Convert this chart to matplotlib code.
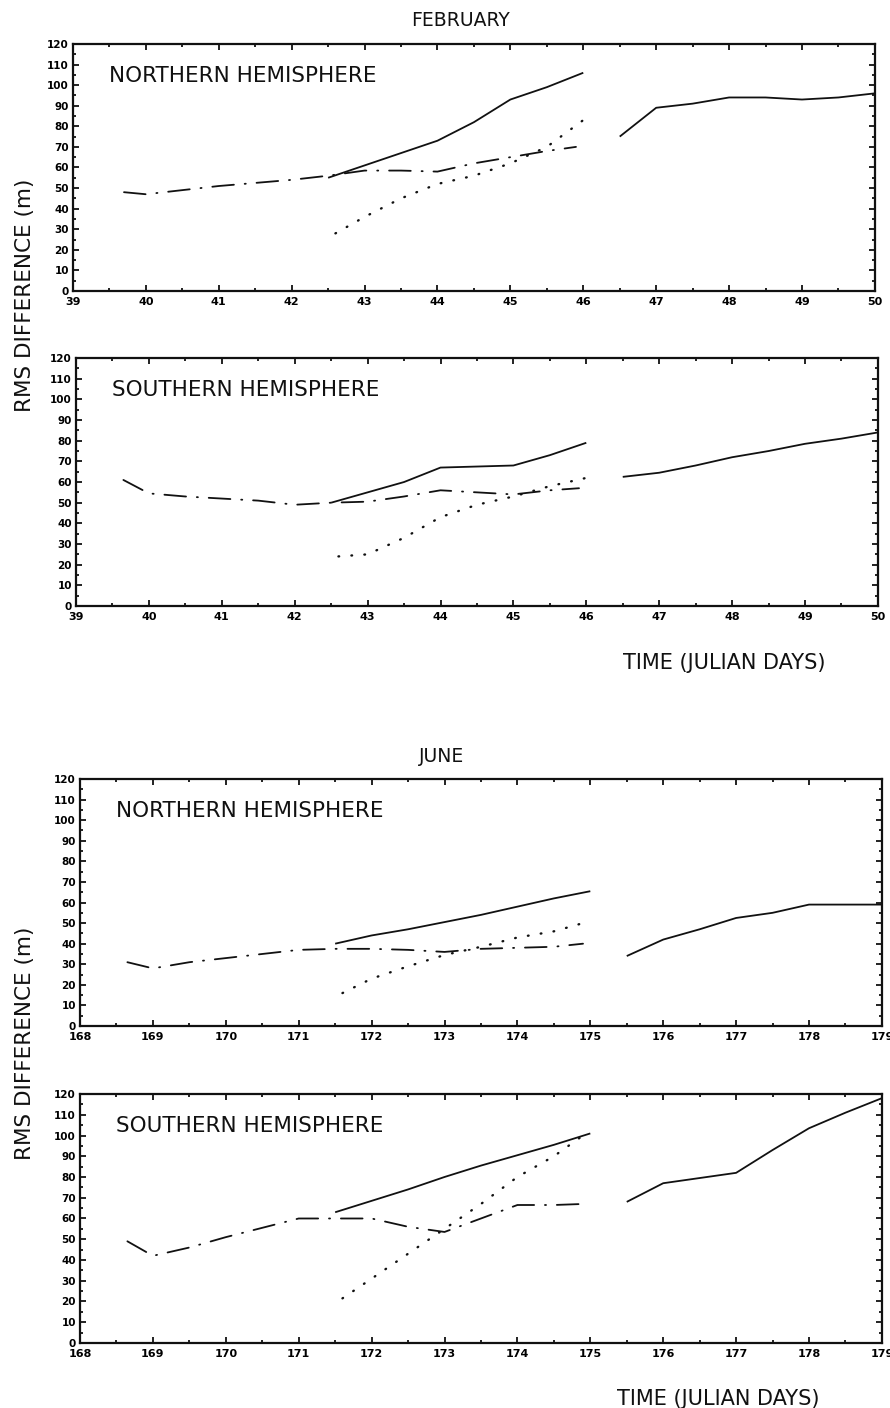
import matplotlib
matplotlib.use("Agg")
import matplotlib.pyplot as plt
from matplotlib.ticker import MultipleLocator

plt.rcParams['font.family'] = ['DejaVu Sans']

# ---------------- February, Julian days 39-50 ----------------
feb_xlim = (39, 50)
feb_xticks = [39, 40, 41, 42, 43, 44, 45, 46, 47, 48, 49, 50]
feb_xticklabels = ['39', '40', '41', '42', '43', '44', '45', '46', '47', '48', '49', '50']

# Northern hemisphere
feb_nh_solid1_x = [42.5, 43.0, 43.5, 44.0, 44.5, 45.0, 45.5, 46.0]
feb_nh_solid1_y = [55, 61, 67, 73, 82, 93, 99, 106]
feb_nh_solid2_x = [46.5, 47.0, 47.5, 48.0, 48.5, 49.0, 49.5, 50.0]
feb_nh_solid2_y = [75, 89, 91, 94, 94, 93, 94, 96]
feb_nh_dashdot_x = [39.7, 40.0, 40.5, 41.0, 41.5, 42.0, 42.5, 43.0, 43.5, 44.0, 44.5, 45.0, 45.5, 45.9]
feb_nh_dashdot_y = [48, 47, 49, 51, 52.5, 54, 56, 58.5, 58.5, 58, 62, 65, 68, 70]
feb_nh_dotted_x = [42.6, 43.0, 43.5, 44.0, 44.5, 45.0, 45.5, 46.0]
feb_nh_dotted_y = [28, 36, 45, 52, 56, 62, 70, 83]

# Southern hemisphere
feb_sh_solid1_x = [42.5, 43.0, 43.5, 44.0, 44.5, 45.0, 45.5, 46.0]
feb_sh_solid1_y = [50, 55, 60, 67, 67.5, 68, 73, 79]
feb_sh_solid2_x = [46.5, 47.0, 47.5, 48.0, 48.5, 49.0, 49.5, 50.0]
feb_sh_solid2_y = [62.5, 64.5, 68, 72, 75, 78.5, 81, 84]
feb_sh_dashdot_x = [39.65, 40.0, 40.5, 41.0, 41.5, 42.0, 42.5, 43.0, 43.5, 44.0, 44.5, 45.0, 45.5, 45.9]
feb_sh_dashdot_y = [61, 54.5, 53, 52, 51, 49, 50, 50.5, 53, 56, 55, 54, 56, 57]
feb_sh_dotted_x = [42.6, 43.0, 43.5, 44.0, 44.5, 45.0, 45.5, 46.0]
feb_sh_dotted_y = [24, 25, 33, 43, 49, 53, 58, 62]

# ---------------- June, Julian days 168-179 ----------------
jun_xlim = (168, 179)
jun_xticks = [168, 169, 170, 171, 172, 173, 174, 175, 176, 177, 178, 179]
jun_xticklabels = ['168', '169', '170', '171', '172', '173', '174', '175', '176', '177', '178', '179']

# Northern hemisphere
jun_nh_solid1_x = [171.5, 172.0, 172.5, 173.0, 173.5, 174.0, 174.5, 175.0]
jun_nh_solid1_y = [40, 44, 47, 50.5, 54, 58, 62, 65.5]
jun_nh_solid2_x = [175.5, 176.0, 176.5, 177.0, 177.5, 178.0, 178.5, 179.0]
jun_nh_solid2_y = [34, 42, 47, 52.5, 55, 59, 59, 59]
jun_nh_dashdot_x = [168.65, 169.0, 169.5, 170.0, 170.5, 171.0, 171.5, 172.0, 172.5, 173.0, 173.5, 174.0, 174.5, 174.9]
jun_nh_dashdot_y = [31, 28, 31, 33, 35, 37, 37.5, 37.5, 37, 36, 37.5, 38, 38.5, 40]
jun_nh_dotted_x = [171.6, 172.0, 172.5, 173.0, 173.5, 174.0, 174.5, 174.9]
jun_nh_dotted_y = [16, 23, 29, 34.5, 38.5, 43, 46, 50]

# Southern hemisphere
jun_sh_solid1_x = [171.5, 172.0, 172.5, 173.0, 173.5, 174.0, 174.5, 175.0]
jun_sh_solid1_y = [63, 68.5, 74, 80, 85.5, 90.5, 95.5, 101]
jun_sh_solid2_x = [175.5, 176.0, 176.5, 177.0, 177.5, 178.0, 178.5, 179.0]
jun_sh_solid2_y = [68, 77, 79.5, 82, 93, 103.5, 111, 118]
jun_sh_dashdot_x = [168.65, 169.0, 169.5, 170.0, 170.5, 171.0, 171.5, 172.0, 172.5, 173.0, 173.5, 174.0, 174.5, 174.9]
jun_sh_dashdot_y = [49, 42, 46, 51, 55.5, 60, 60, 60, 56, 53.5, 60, 66.5, 66.5, 67]
jun_sh_dotted_x = [171.6, 172.0, 172.5, 173.0, 173.5, 174.0, 174.5, 174.9]
jun_sh_dotted_y = [21.5, 31, 43, 55, 67, 80, 90, 100]

yticks = [0, 10, 20, 30, 40, 50, 60, 70, 80, 90, 100, 110, 120]
yticklabels = ['0', '10', '20', '30', '40', '50', '60', '70', '80', '90', '100', '110', '120']

INK = '#111111'
DASHDOT = (0, (12, 6, 0.6, 6))
DOTTED = (0, (0.3, 5.2))


def panel(rect, xlim, xticks, xticklabels, label, series):
    ax = fig.add_axes(rect)
    ax.set_xlim(*xlim)
    ax.set_ylim(0, 120)
    for (xs, ys, style, lw) in series:
        ax.plot(xs, ys, color=INK, linestyle=style, linewidth=lw,
                dash_capstyle='round', solid_capstyle='butt')
    ax.set_xticks(xticks)
    ax.set_xticklabels(xticklabels, fontsize=8, fontweight='bold')
    ax.set_yticks(yticks)
    ax.set_yticklabels(yticklabels, fontsize=7.5, fontweight='bold')
    ax.xaxis.set_minor_locator(MultipleLocator(0.5))
    ax.yaxis.set_minor_locator(MultipleLocator(5))
    ax.tick_params(which='both', direction='in', top=True, right=True,
                   color=INK, width=1.3)
    ax.tick_params(which='major', length=4, pad=4)
    ax.tick_params(which='minor', length=2.5)
    ax.tick_params(axis='y', pad=3)
    for s in ax.spines.values():
        s.set_linewidth(1.6)
        s.set_color(INK)
    ax.text(0.045, 0.87, label, transform=ax.transAxes, fontsize=15.5,
            color=INK, ha='left', va='center')
    return ax


fig = plt.figure(figsize=(8.9, 14.08), dpi=100)

panel([0.082, 0.7933, 0.901, 0.1755], feb_xlim, feb_xticks, feb_xticklabels,
      'NORTHERN HEMISPHERE',
      [(feb_nh_solid1_x, feb_nh_solid1_y, '-', 1.3),
       (feb_nh_solid2_x, feb_nh_solid2_y, '-', 1.3),
       (feb_nh_dashdot_x, feb_nh_dashdot_y, DASHDOT, 1.3),
       (feb_nh_dotted_x, feb_nh_dotted_y, DOTTED, 1.7)])

panel([0.0854, 0.5696, 0.901, 0.1761], feb_xlim, feb_xticks, feb_xticklabels,
      'SOUTHERN HEMISPHERE',
      [(feb_sh_solid1_x, feb_sh_solid1_y, '-', 1.3),
       (feb_sh_solid2_x, feb_sh_solid2_y, '-', 1.3),
       (feb_sh_dashdot_x, feb_sh_dashdot_y, DASHDOT, 1.3),
       (feb_sh_dotted_x, feb_sh_dotted_y, DOTTED, 1.7)])

panel([0.0899, 0.2713, 0.901, 0.1754], jun_xlim, jun_xticks, jun_xticklabels,
      'NORTHERN HEMISPHERE',
      [(jun_nh_solid1_x, jun_nh_solid1_y, '-', 1.3),
       (jun_nh_solid2_x, jun_nh_solid2_y, '-', 1.3),
       (jun_nh_dashdot_x, jun_nh_dashdot_y, DASHDOT, 1.3),
       (jun_nh_dotted_x, jun_nh_dotted_y, DOTTED, 1.7)])

panel([0.0899, 0.0462, 0.901, 0.1768], jun_xlim, jun_xticks, jun_xticklabels,
      'SOUTHERN HEMISPHERE',
      [(jun_sh_solid1_x, jun_sh_solid1_y, '-', 1.3),
       (jun_sh_solid2_x, jun_sh_solid2_y, '-', 1.3),
       (jun_sh_dashdot_x, jun_sh_dashdot_y, DASHDOT, 1.3),
       (jun_sh_dotted_x, jun_sh_dotted_y, DOTTED, 1.7)])

# Headings and shared axis labels
fig.text(460 / 890, 1 - 20 / 1408, 'FEBRUARY', fontsize=13.5, ha='center', va='center', color=INK)
fig.text(442 / 890, 1 - 757 / 1408, 'JUNE', fontsize=13.5, ha='center', va='center', color=INK)
fig.text(724 / 890, 1 - 663 / 1408, 'TIME (JULIAN DAYS)', fontsize=15, ha='center', va='center', color=INK)
fig.text(718 / 890, 1 - 1399 / 1408, 'TIME (JULIAN DAYS)', fontsize=15, ha='center', va='center', color=INK)
fig.text(25 / 890, 1 - 295 / 1408, 'RMS DIFFERENCE (m)', fontsize=15.5, rotation=90,
         ha='center', va='center', color=INK)
fig.text(25 / 890, 1 - 1043 / 1408, 'RMS DIFFERENCE (m)', fontsize=15.5, rotation=90,
         ha='center', va='center', color=INK)

fig.savefig('out.png', dpi=100)
